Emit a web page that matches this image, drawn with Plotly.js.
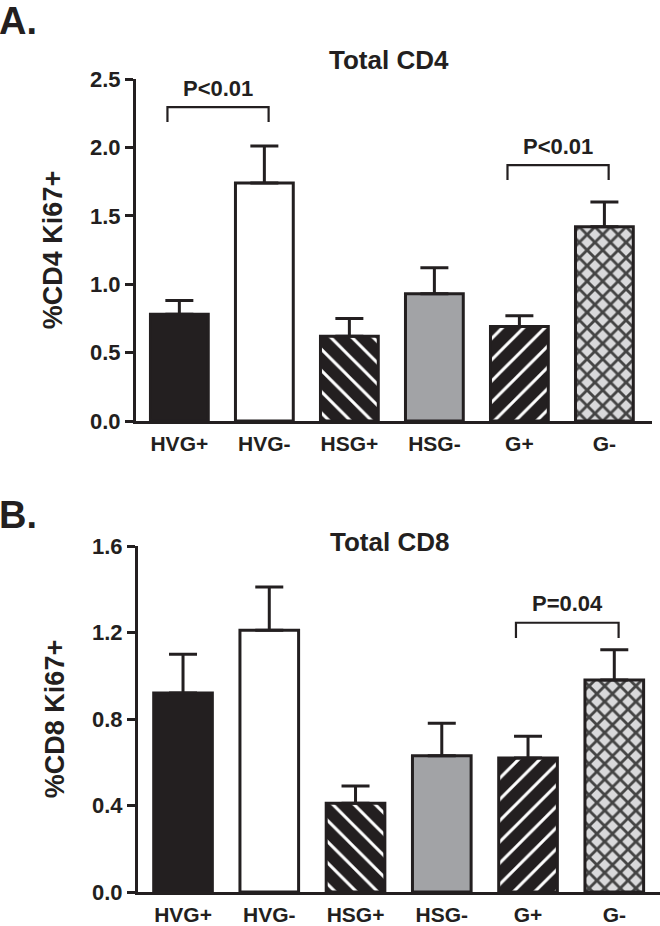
<!DOCTYPE html>
<html>
<head>
<meta charset="utf-8">
<script src="https://cdn.plot.ly/plotly-3.0.1.min.js"></script>
<style>html,body{margin:0;padding:0;background:#fff;}#chart{width:660px;height:926px;}</style>
</head>
<body>
<div id="chart"></div>
<script>
// ---- data ----
const categories = ["HVG+", "HVG-", "HSG+", "HSG-", "G+", "G-"];
const cd4Mean = [0.78, 1.74, 0.62, 0.93, 0.69, 1.42];
const cd4Err  = [0.10, 0.27, 0.13, 0.19, 0.08, 0.18];
const cd8Mean = [0.92, 1.21, 0.41, 0.63, 0.62, 0.98];
const cd8Err  = [0.18, 0.20, 0.08, 0.15, 0.10, 0.14];
// significance comparisons: [from index, to index, label]
const cd4Comparisons = [[0, 1, "P<0.01"], [4, 5, "P<0.01"]];
const cd4CompLevels = [2.295, 1.871];
const cd8Comparisons = [[4, 5, "P=0.04"]];
const cd8CompLevels = [1.245];

// ---- styles ----
const ink = "#231f20";
const FONT = "Liberation Sans, Arial, sans-serif";
const idx = categories.map((_, i) => i);
const fillBg = ["#231f20", "#ffffff", "#231f20", "#a2a3a6", "#231f20", "#d9d9db"];
const fillShape = ["", "", "\\", "", "/", "x"];
const fillSize = [8, 8, 15, 8, 15, 11];
const fillSolid = [0.3, 0.3, 0.2, 0.3, 0.2, 0.45];

function barTrace(means, errs, xa, ya) {
  return {
    type: "bar", x: idx, y: means, xaxis: xa, yaxis: ya, width: 0.68,
    marker: {
      color: fillBg,
      line: {color: ink, width: 3},
      pattern: {shape: fillShape, size: fillSize, solidity: fillSolid, fillmode: "overlay", fgopacity: 1}
    },
    error_y: {type: "data", symmetric: false, array: errs, arrayminus: errs.map(() => 0),
              color: ink, thickness: 3, width: 14},
    hoverinfo: "none", showlegend: false
  };
}

function bracketTraces(comps, levels, drop, xa, ya) {
  return comps.map((c, k) => {
    const x0 = c[0] - 0.14, x1 = c[1] + 0.05, y = levels[k];
    return {type: "scatter", mode: "lines", x: [x0, x0, x1, x1], y: [y - drop, y, y, y - drop],
            xaxis: xa, yaxis: ya, line: {color: ink, width: 2.2}, hoverinfo: "none", showlegend: false};
  });
}
function bracketLabels(comps, levels, gap, xa, ya) {
  return comps.map((c, k) => ({
    xref: xa, yref: ya, x: (c[0] - 0.14 + c[1] + 0.05) / 2, y: levels[k] + gap,
    text: c[2], showarrow: false, yanchor: "bottom",
    font: {family: FONT, size: 22, color: ink, weight: "bold"}
  }));
}

const data = [
  barTrace(cd4Mean, cd4Err, "x", "y"),
  barTrace(cd8Mean, cd8Err, "x2", "y2"),
  ...bracketTraces(cd4Comparisons, cd4CompLevels, 0.11, "x", "y"),
  ...bracketTraces(cd8Comparisons, cd8CompLevels, 0.07, "x2", "y2")
];

const tickFont = {family: FONT, size: 21, color: ink, weight: "bold"};
const xCommon = {
  tickmode: "array", tickvals: idx, ticktext: categories, tickfont: tickFont,
  showline: true, linecolor: ink, linewidth: 3, ticks: "outside", ticklen: 2,
  tickcolor: "rgba(0,0,0,0)", showgrid: false, zeroline: false, fixedrange: true
};
const yCommon = {
  showline: true, linecolor: ink, linewidth: 3, ticks: "outside", ticklen: 8, tickwidth: 3,
  tickcolor: ink, tickfont: {family: FONT, size: 22, color: ink, weight: "bold"},
  tickformat: ".1f", showgrid: false, zeroline: false, fixedrange: true
};
const yTitleFont = {family: FONT, size: 27, color: ink, weight: "bold"};

const layout = {
  width: 660, height: 926, margin: {l: 0, r: 0, t: 0, b: 0},
  paper_bgcolor: "#fff", plot_bgcolor: "rgba(0,0,0,0)",
  showlegend: false, bargap: 0.3,
  xaxis: Object.assign({}, xCommon, {domain: [136/660, 652/660], range: [-0.51, 5.56], anchor: "y"}),
  yaxis: Object.assign({}, yCommon, {domain: [505/926, 847/926], range: [0, 2.5], dtick: 0.5, anchor: "x",
    title: {text: "%CD4 Ki67+", standoff: 20, font: yTitleFont}}),
  xaxis2: Object.assign({}, xCommon, {domain: [138/660, 1], range: [-0.522, 5.53], anchor: "y2"}),
  yaxis2: Object.assign({}, yCommon, {domain: [34/926, 380/926], range: [0, 1.6], dtick: 0.4, anchor: "x2",
    title: {text: "%CD8 Ki67+", standoff: 20, font: yTitleFont}}),
  annotations: [
    {xref: "paper", yref: "paper", x: 389/660, y: 1 - 60/926, yanchor: "middle", text: "Total CD4", showarrow: false,
     font: {family: FONT, size: 26, color: ink, weight: "bold"}},
    {xref: "paper", yref: "paper", x: 389/660, y: 1 - 542/926, yanchor: "middle", text: "Total CD8", showarrow: false,
     font: {family: FONT, size: 26, color: ink, weight: "bold"}},
    {xref: "paper", yref: "paper", x: -0.004, xanchor: "left", y: 1 - 21/926, yanchor: "middle", text: "A.", showarrow: false,
     font: {family: FONT, size: 38, color: ink, weight: "bold"}},
    {xref: "paper", yref: "paper", x: -0.004, xanchor: "left", y: 1 - 515/926, yanchor: "middle", text: "B.", showarrow: false,
     font: {family: FONT, size: 38, color: ink, weight: "bold"}},
    ...bracketLabels(cd4Comparisons, cd4CompLevels, 0.03, "x", "y"),
    ...bracketLabels(cd8Comparisons, cd8CompLevels, 0.02, "x2", "y2")
  ]
};

Plotly.newPlot("chart", data, layout, {staticPlot: true, displayModeBar: false});
</script>
</body>
</html>
